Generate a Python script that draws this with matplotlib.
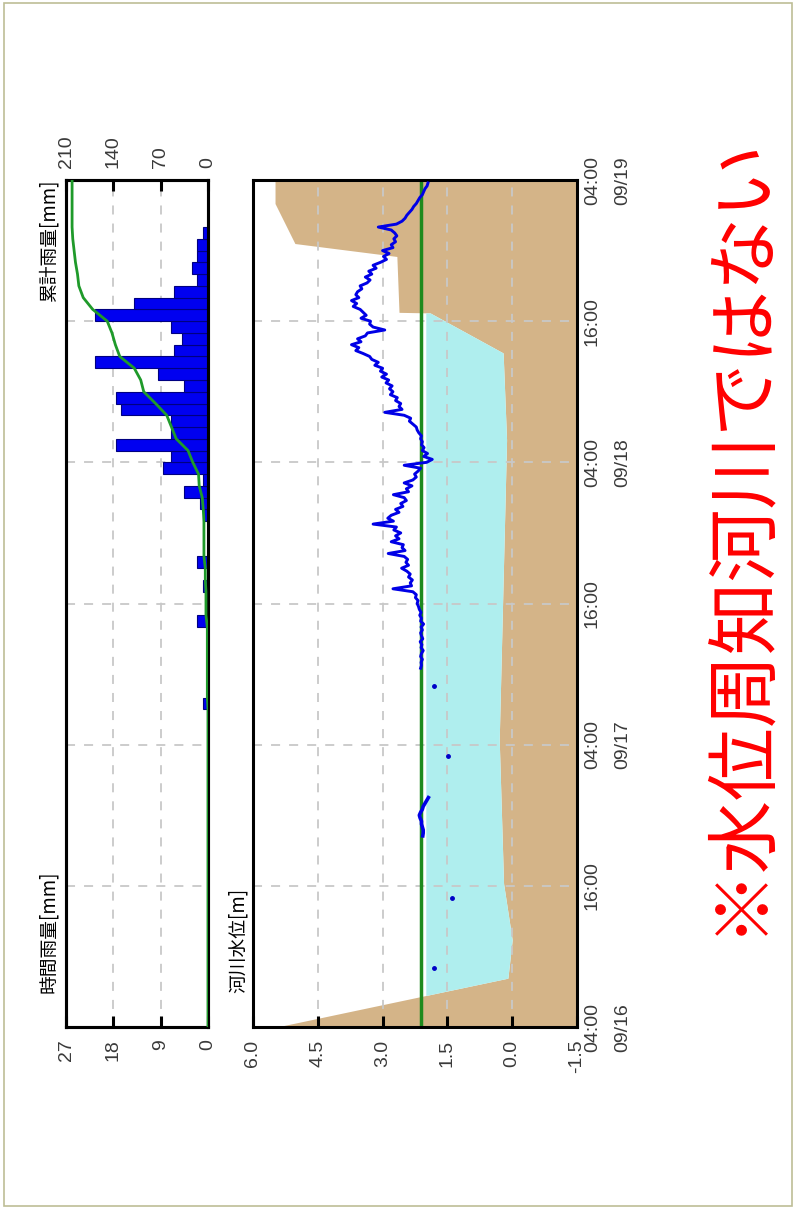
import numpy as np
import matplotlib
matplotlib.use("Agg")
import matplotlib.pyplot as plt
from matplotlib.patches import Rectangle

plt.rcParams["font.family"] = ["Liberation Sans", "Noto Sans CJK JP", "DejaVu Sans"]

# --- données ---------------------------------------------------------------
# heures depuis 09/16 04:00 (0 .. 72)
time_ticks = [0, 12, 24, 36, 48, 60, 72]
time_labels = ["04:00\n09/16", "16:00", "04:00\n09/17", "16:00",
               "04:00\n09/18", "16:00", "04:00\n09/19"]

# pluie horaire [mm] (heure de début, valeur)
rain_hour = [27, 34, 37, 39, 43, 44, 45, 46, 47, 48, 49, 50, 51, 52, 53,
             54, 55, 56, 57, 58, 59, 60, 61, 62, 63, 64, 65, 66, 67]
rain_mm = [1, 2, 1, 2, 1, 1.5, 4.5, 1, 8.5, 7, 17.5, 7, 7, 16.5, 17.5,
           4.5, 9.5, 21.5, 6.5, 5, 7, 21.5, 14, 6.5, 2, 3, 2, 2, 1]

# profil en travers (fond) : position (axe temps) / altitude [m]
ground_h = [0, 4.15, 7.4, 12.2, 24.4, 49.9, 57.3, 60.7, 60.75, 65.5, 66.6, 70.0, 72]
ground_m = [5.45, 0.10, 0.0, 0.20, 0.30, 0.13, 0.21, 1.90, 2.62, 2.67, 5.03, 5.49, 5.49]
water_fill_level = 2.0
warning_level = 2.1

# niveau d'eau [m], pas de 15 min à partir de h=30.5
level_start = 30.5
level_step = 0.25
level_m = [
    2.12, 2.10, 2.11, 2.08, 2.12, 2.10, 2.06, 2.11, 2.09, 2.13, 2.07, 2.10,
    2.12, 2.08, 2.11, 2.05, 2.12, 2.10, 2.14, 2.11, 2.15, 2.17, 2.20, 2.18,
    2.24, 2.22, 2.30, 2.76, 2.33, 2.36, 2.31, 2.40, 2.36, 2.44, 2.56, 2.40,
    2.46, 2.42, 2.50, 2.87, 2.48, 2.55, 2.52, 2.80, 2.62, 2.70, 2.58, 2.74,
    2.68, 3.22, 2.75, 2.88, 2.80, 2.62, 2.70, 2.53, 2.58, 2.45, 2.50, 2.75,
    2.40, 2.45, 2.32, 2.50, 2.30, 2.22, 2.26, 2.18, 2.12, 2.50, 1.98, 1.85,
    2.05, 1.96, 2.08, 2.04, 2.10, 2.08, 2.12, 2.10, 2.16, 2.20, 2.22, 2.30,
    2.38, 2.35, 2.50, 2.95, 2.55, 2.62, 2.58, 2.70, 2.66, 2.82, 2.76, 2.84,
    2.78, 2.92, 2.86, 3.02, 2.91, 3.05, 3.00, 3.18, 3.10, 3.25, 3.30, 3.45,
    3.62, 3.55, 3.72, 3.50, 3.58, 3.40, 3.35, 2.95, 3.22, 3.30, 3.28, 3.50,
    3.38, 3.45, 3.52, 3.68, 3.60, 3.72, 3.55, 3.62, 3.58, 3.48, 3.52, 3.36,
    3.29, 3.40, 3.25, 3.32, 3.15, 3.22, 3.05, 2.91, 2.98, 2.85, 3.00, 2.76,
    2.80, 2.70, 2.74, 2.67, 2.72, 2.80, 3.10, 2.68, 2.55, 2.48, 2.44, 2.38,
    2.32, 2.28, 2.22, 2.18, 2.14, 2.08, 2.05, 2.02, 1.97, 1.95,
]
# court tronçon isolé et points isolés
seg_h = [16.25, 16.5, 16.75, 17.0, 17.25, 17.5, 17.75, 18.0, 18.25, 18.5, 18.75, 19.0, 19.25, 19.5]
seg_m = [2.07, 2.06, 2.06, 2.08, 2.10, 2.10, 2.13, 2.15, 2.12, 2.08, 2.06, 2.02, 1.98, 1.94]
dot_h = [5.0, 11.0, 23.0, 29.0]
dot_m = [1.81, 1.40, 1.49, 1.81]

rain_ticks = [0, 9, 18, 27]
cum_ticks = [0, 70, 140, 210]
level_ticks = [-1.5, 0.0, 1.5, 3.0, 4.5, 6.0]

# --- styles ----------------------------------------------------------------
TXT = "#3a3a3a"
GRID = dict(color="#c8c8c8", linestyle=(0, (5, 5)), linewidth=1.3)
CJK = ["Noto Sans CJK JP", "DejaVu Sans"]

W, H = 794, 1209
fig = plt.figure(figsize=(W / 100, H / 100), dpi=100)

# cadre extérieur
fig.patches.append(Rectangle((4 / W, 3 / H), 788 / W, 1203 / H, transform=fig.transFigure,
                             fill=False, edgecolor="#bdbd96", linewidth=1.2))

bottom = 1 - 1027 / H
height = 847 / H
ax_r = fig.add_axes([66 / W, bottom, 142 / W, height])
ax_w = fig.add_axes([253 / W, bottom, 324 / W, height])


def style_frame(ax):
    for sp in ax.spines.values():
        sp.set_linewidth(2.2)
        sp.set_color("black")


# --- pluie -----------------------------------------------------------------
ax_r.barh(rain_hour, rain_mm, height=1, align="edge", color="#0000f0",
          edgecolor="#000080", linewidth=0.8, zorder=2)
ax_r.set_xlim(27, 0)
ax_r.set_ylim(0, 72)
ax_r.set_xticks(rain_ticks)
ax_r.set_xticklabels([str(v) for v in rain_ticks], rotation=90, color=TXT, fontsize=14)
ax_r.set_yticks(time_ticks)
ax_r.tick_params(axis="x", direction="in", length=8, width=2.2, pad=9, top=False)
ax_r.tick_params(axis="y", length=0, labelleft=False)
ax_r.grid(True, **GRID)
ax_r.set_axisbelow(True)
style_frame(ax_r)

# pluie cumulée (axe secondaire en haut)
hourly = np.zeros(72)
hourly[rain_hour] = rain_mm
cum = np.concatenate([[0], np.cumsum(hourly)])
ax_c = ax_r.twiny()
ax_c.plot(cum, np.arange(73), color="#1f9a2a", linewidth=2, zorder=3)
ax_c.set_xlim(210, 0)
ax_c.set_xticks(cum_ticks)
ax_c.set_xticklabels([str(v) for v in cum_ticks], rotation=90, color=TXT, fontsize=14)
ax_c.tick_params(axis="x", direction="in", length=8, width=2.2, pad=9)
style_frame(ax_c)

# --- niveau d'eau ------------------------------------------------------------
gh = np.array(ground_h)
gm = np.array(ground_m)
ax_w.fill_betweenx(gh, -1.5, gm, color="#d4b488", linewidth=0, zorder=0.5)
ax_w.fill_betweenx(gh, gm, water_fill_level, where=gm < water_fill_level,
                   interpolate=True, color="#afeeee", linewidth=0, zorder=0.5)
ax_w.axvline(warning_level, color="#1e8a1e", linewidth=2.5, zorder=2)

lv_h = level_start + level_step * np.arange(len(level_m))
ax_w.plot(level_m, lv_h, color="#0000e6", linewidth=2.1, zorder=3)
ax_w.plot(seg_m, seg_h, color="#0000e6", linewidth=2.6, zorder=3)
ax_w.plot(dot_m, dot_h, linestyle="none", marker="o", markersize=2.5,
          color="#0000c8", zorder=3)

ax_w.set_xlim(6.0, -1.5)
ax_w.set_ylim(0, 72)
ax_w.set_xticks(level_ticks)
ax_w.set_xticklabels([f"{v:.1f}" for v in level_ticks], rotation=90, color=TXT, fontsize=14)
ax_w.tick_params(axis="x", direction="in", length=8, width=2.2, pad=9, top=False)
ax_w.yaxis.tick_right()
ax_w.set_yticks(time_ticks)
ax_w.set_yticklabels(time_labels, rotation=90, va="center", ha="left",
                     color=TXT, fontsize=14, linespacing=2.0)
ax_w.tick_params(axis="y", length=0, pad=5)
ax_w.grid(True, **GRID)
ax_w.set_axisbelow("line")
style_frame(ax_w)

# --- titres ------------------------------------------------------------------
fig.text(49 / W, 1 - 180 / H, "累計雨量[mm]", rotation=90, ha="center", va="top",
         fontsize=13.5, family=CJK)
fig.text(49 / W, 1 - 993 / H, "時間雨量[mm]", rotation=90, ha="center", va="bottom",
         fontsize=13.5, family=CJK)
fig.text(238 / W, 1 - 993 / H, "河川水位[m]", rotation=90, ha="center", va="bottom",
         fontsize=13.5, family=CJK)
fig.text(738 / W, 1 - 935 / H, "※水位周知河川ではない", rotation=90, ha="center",
         va="bottom", color="#ff0000", fontsize=52.5, family=CJK)

fig.savefig("out.png", dpi=100)
